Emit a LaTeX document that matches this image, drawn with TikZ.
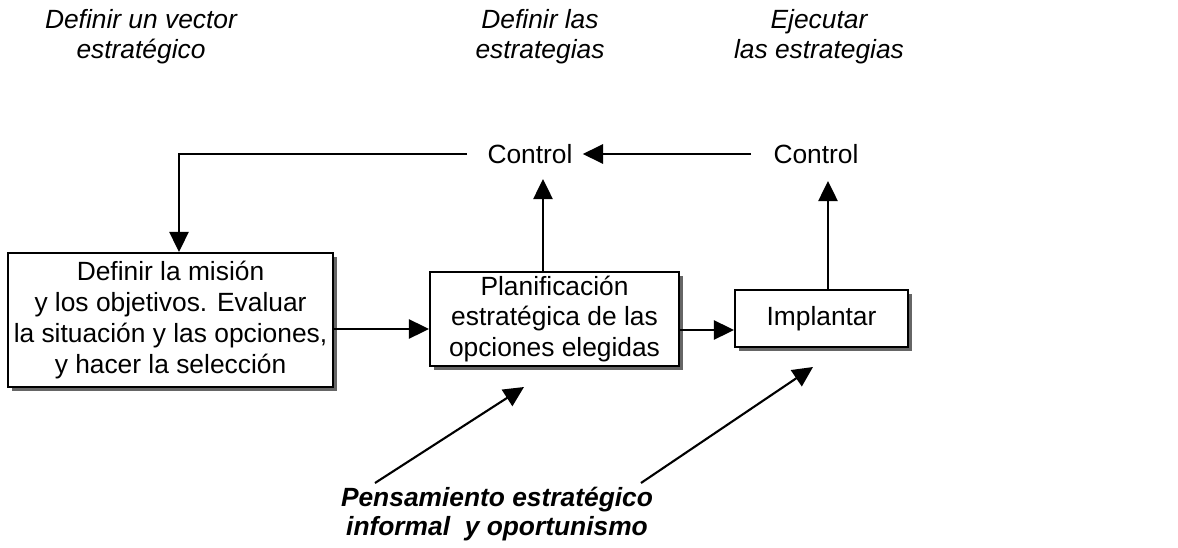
\documentclass[tikz,border=0pt]{standalone}
\usepackage{fontspec}
\setmainfont{Liberation Sans}
\usetikzlibrary{arrows.meta,shadows}

\begin{document}
\begin{tikzpicture}[x=0.02cm, y=-0.02cm,
  box/.style={draw=black, line width=1.2pt, fill=white, align=center, inner sep=0pt,
    font=\fontsize{15}{17.6}\selectfont,
    drop shadow={shadow xshift=2.5pt, shadow yshift=-2.5pt, fill=black!60, opacity=1}},
  arr/.style={line width=1.2pt, -{Triangle[length=11.5pt, width=11pt]}},
  lbl/.style={align=center, font=\fontsize{15}{17}\selectfont\itshape},
  ctl/.style={font=\fontsize{15}{18}\selectfont, inner sep=0pt}]
\useasboundingbox (0,0) rectangle (1178,548);
\node[lbl] (vec) at (141,37) {Definir un vector\\estratégico};
\node[lbl] (estr) at (540,37) {Definir las\\estrategias};
\node[lbl] (ejec) at (819,37) {Ejecutar\\las estrategias};
\node[ctl] (ctrlA) at (530,154) {Control};
\node[ctl] (ctrlB) at (816,154) {Control};
\node[box, minimum width=6.5cm, minimum height=2.68cm] (mision) at (170.5,320)
  {Definir la misión\\y los objetivos. Evaluar\\la situación y las opciones,\\y hacer la selección};
\node[box, minimum width=4.98cm, minimum height=1.88cm] (plan) at (554.5,319)
  {Planificación\\estratégica de las\\opciones elegidas};
\node[box, minimum width=3.46cm, minimum height=1.14cm] (impl) at (821.5,318.5) {Implantar};
\node[align=center, font=\fontsize{15}{16.5}\selectfont\bfseries\itshape] (pens) at (497,514)
  {Pensamiento estratégico\\informal\ \ y oportunismo};
\coordinate (upA) at (543,179);
\coordinate (upB) at (828,181);
\coordinate (fromA) at (375,483);
\coordinate (tipA) at (524,387);
\coordinate (fromB) at (641,483);
\coordinate (tipB) at (813,367);
\draw[arr, shorten <=0.44cm, shorten >=0.2cm] (ctrlB.west) -- (ctrlA.east);
\draw[arr, shorten <=0.4cm] (ctrlA.west) -| ([xshift=0.17cm]mision.north);
\draw[arr] (plan.north -| upA) -- (upA);
\draw[arr] (impl.north -| upB) -- (upB);
\draw[arr] ([yshift=-0.18cm]mision.east) -- ([yshift=-0.18cm]mision.east -| plan.west);
\draw[arr] ([yshift=-0.22cm]plan.east) -- ([yshift=-0.22cm]plan.east -| impl.west);
\draw[arr] (fromA) -- (tipA);
\draw[arr] (fromB) -- (tipB);
\end{tikzpicture}
\end{document}
